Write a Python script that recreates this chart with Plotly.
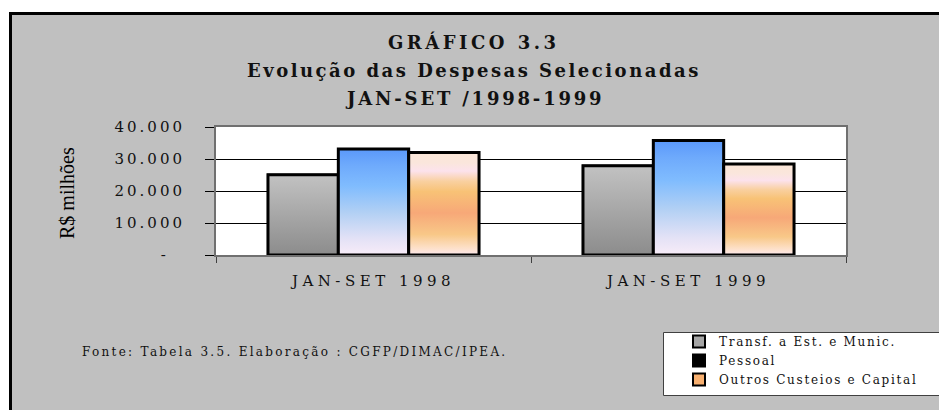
import plotly.graph_objects as go

# data (R$ milhoes)
categories = ["JAN-SET 1998", "JAN-SET 1999"]
series_names = ["Transf. a Est. e Munic.", "Pessoal", "Outros Custeios e Capital"]
transf = [25100, 27900]
pessoal = [33100, 35800]
outros = [32000, 28400]
y_tickvals = [0, 10000, 20000, 30000, 40000]
y_ticktext = ["-", "10.000", "20.000", "30.000", "40.000"]

title_lines = ["GRÁFICO 3.3", "Evolução das Despesas Selecionadas", "JAN-SET /1998-1999"]
y_title = "R$ milhões"
source_note = "Fonte: Tabela 3.5. Elaboração : CGFP/DIMAC/IPEA."

FONT = "Liberation Serif, Times New Roman, serif"
# letter-spaced text falls back to sans with Liberation Serif here, DejaVu Serif holds
SPACED_FONT = "DejaVu Serif"
W, H = 947, 410
OFF = 8  # page body margin shifts the figure by 8px
ML, MT = 216 - OFF, 127 - OFF
PW, PH = 630, 128
MR, MB = W - ML - PW, H - MT - PH


def px(x):
    # reference-image pixel -> paper x
    return (x - OFF - ML) / PW


def py(y):
    return (MT + PH - (y - OFF)) / PH


def spaced(s, sp):
    return '<span style="letter-spacing:%spx">%s</span>' % (sp, s)


legend_colors = ["#a6a6a6", "#000000", "#f8b070"]
gradients = [
    [[0, "#8c8c8c"], [1, "#c2c2c2"]],
    [[0, "#f8ecf8"], [0.15, "#e4e2f6"], [0.4, "#b2d0f4"], [0.65, "#80bcfe"],
     [0.85, "#6eaafc"], [1, "#5a98fa"]],
    [[0, "#fce8ec"], [0.07, "#fde0c8"], [0.2, "#f8c888"], [0.41, "#f7a878"],
     [0.62, "#f8c276"], [0.72, "#f9d0a0"], [0.82, "#fce2ec"], [0.9, "#fae6dc"],
     [1, "#fbe6d8"]],
]

group = 0.67
bw = group / 3
fig = go.Figure()
all_vals = [transf, pessoal, outros]
for k, (name, vals) in enumerate(zip(series_names, all_vals)):
    off = -group / 2 + k * bw
    fig.add_trace(go.Bar(
        x=[0, 1], y=vals, name=spaced(name, 1.7), width=bw, offset=off,
        marker=dict(color=legend_colors[k], line=dict(color="black", width=2)),
        hoverinfo="skip",
    ))

# gradient fills laid on top of each bar
for k, vals in enumerate(all_vals):
    off = -group / 2 + k * bw
    for i, v in enumerate(vals):
        x0, x1 = i + off, i + off + bw
        fig.add_trace(go.Scatter(
            x=[x0, x1, x1, x0, x0], y=[0, 0, v, v, 0],
            mode="lines", fill="toself",
            fillgradient=dict(type="vertical", colorscale=gradients[k]),
            line=dict(color="black", width=3),
            showlegend=False, hoverinfo="skip",
        ))

fig.update_layout(
    width=W, height=H,
    margin=dict(l=ML, r=MR, t=MT, b=MB, pad=0),
    paper_bgcolor="#c0c0c0", plot_bgcolor="white",
    font=dict(family=FONT, color="black", size=16),
    showlegend=True,
    legend=dict(
        x=px(663), y=py(327), xanchor="left", yanchor="top",
        bgcolor="rgba(0,0,0,0)", borderwidth=0,
        font=dict(size=12, family=SPACED_FONT, color="#111"), indentation=16,
        traceorder="normal", tracegroupgap=0,
    ),
)

fig.update_xaxes(
    range=[-0.5, 1.5], tickvals=[0, 1],
    ticktext=[spaced(c, 4.5) for c in categories],
    tickfont=dict(size=15, family=SPACED_FONT, color="#111"), ticks="", ticklabelstandoff=11,
    showgrid=False, zeroline=False,
    showline=True, linecolor="#707070", linewidth=2, mirror=True,
    minor=dict(tickvals=[-0.5, 0.5, 1.5], ticks="outside", ticklen=6,
               tickcolor="#404040", showgrid=False),
)
fig.update_yaxes(
    range=[0, 40000], tickvals=y_tickvals,
    ticktext=[spaced(t, 3) if t != "-" else "-" + "\u00a0" * 4 for t in y_ticktext],
    tickfont=dict(size=15, family=SPACED_FONT, color="#111"), ticks="outside", ticklen=9,
    tickcolor="black", ticklabelstandoff=17,
    showgrid=True, gridcolor="black", gridwidth=1, zeroline=False,
    showline=True, linecolor="#707070", linewidth=2, mirror=True,
)

shapes = [
    # white outside the frame + black frame lines
    dict(type="rect", xref="paper", yref="paper", x0=px(-20), x1=px(9), y0=py(-20), y1=py(H + 20),
         fillcolor="white", line=dict(width=0), layer="above"),
    dict(type="rect", xref="paper", yref="paper", x0=px(-20), x1=px(W + 20), y0=py(-20), y1=py(12),
         fillcolor="white", line=dict(width=0), layer="above"),
    dict(type="line", xref="paper", yref="paper", x0=px(10.5), x1=px(10.5), y0=py(12), y1=py(H + 20),
         line=dict(color="black", width=3), layer="above"),
    dict(type="line", xref="paper", yref="paper", x0=px(9), x1=px(W + 20), y0=py(13.5), y1=py(13.5),
         line=dict(color="black", width=3), layer="above"),
    # legend box
    dict(type="rect", xref="paper", yref="paper", x0=px(663.5), x1=px(W + 20), y0=py(395.5), y1=py(332.5),
         fillcolor="white", line=dict(color="#404040", width=1), layer="above"),
]
fig.update_layout(shapes=shapes)

ann = []
for txt, yy, sp in zip(title_lines, [42, 70, 98], [3.5, 2.5, 2.8]):
    ann.append(dict(text="<b>" + spaced(txt, sp) + "</b>", x=px(474), y=py(yy),
                    xref="paper", yref="paper", showarrow=False,
                    xanchor="center", yanchor="middle",
                    font=dict(size=18, family=SPACED_FONT, color="#111")))
ann.append(dict(text=y_title, x=px(67), y=py(193), xref="paper", yref="paper",
                showarrow=False, textangle=-90, font=dict(size=20),
                xanchor="center", yanchor="middle"))
ann.append(dict(text=spaced(source_note, 2.3), x=px(80), y=py(352), xref="paper", yref="paper",
                showarrow=False, xanchor="left", yanchor="middle",
                font=dict(size=12, family=SPACED_FONT, color="#111")))
fig.update_layout(annotations=ann)

fig.write_html("out.html")
